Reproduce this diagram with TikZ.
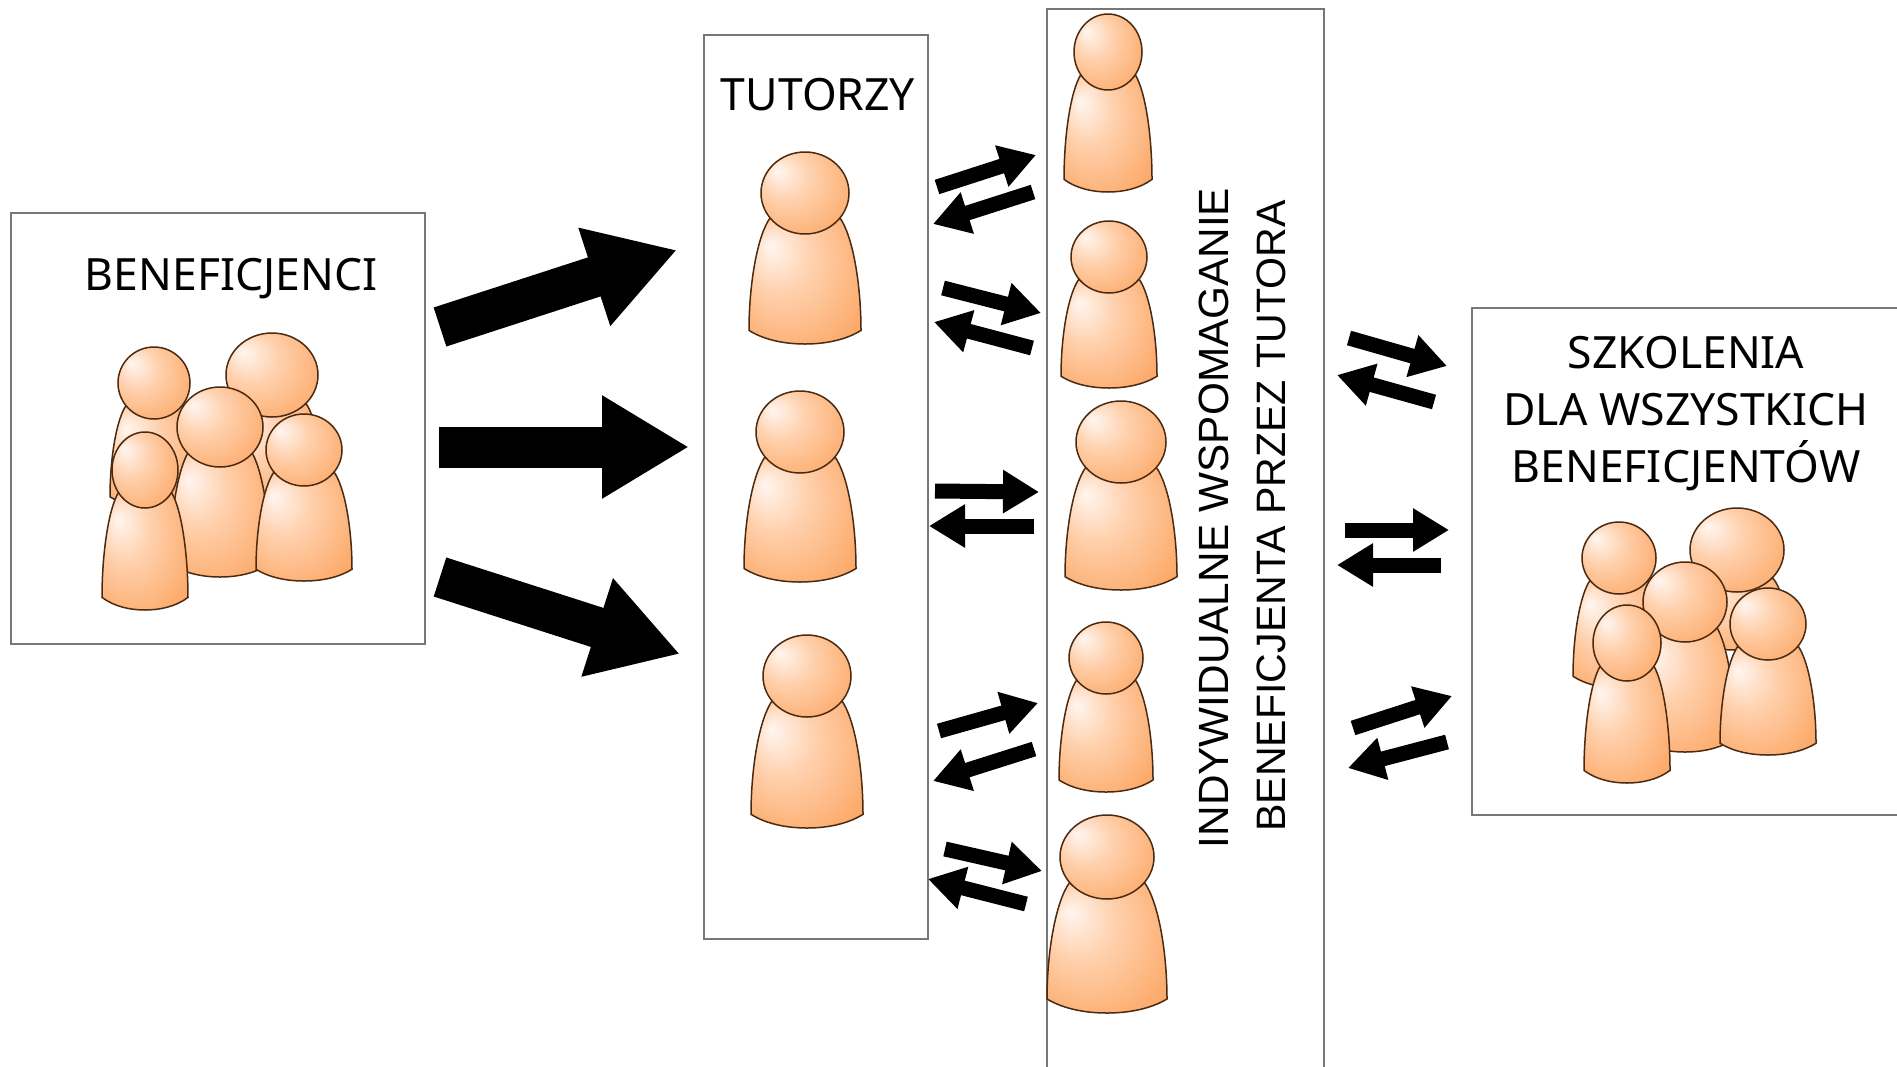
\documentclass[tikz,border=0pt]{standalone}
\usepackage{fontspec}
\setmainfont{Noto Sans}
\newfontfamily\arialfont{Liberation Sans}
\usetikzlibrary{arrows.meta}
\definecolor{pawnlight}{HTML}{FFF6F0}
\definecolor{pawnmid}{HTML}{FFD0AC}
\definecolor{pawnorange}{HTML}{FCA968}
\definecolor{pawnedge}{HTML}{4A2A10}
\definecolor{boxedge}{HTML}{777777}
\pgfdeclareradialshading{pawnshade}{\pgfpoint{-16bp}{14bp}}{%
  color(0bp)=(pawnlight); color(15bp)=(pawnmid); color(36bp)=(pawnorange); color(50bp)=(pawnorange)}
\tikzset{
  panel/.style={draw=boxedge,line width=1.6pt,fill=white},
  pawnpart/.style={draw=pawnedge,line width=1.5pt,shading=pawnshade,shading angle=0},
  bigarrow/.style={line width=41pt,-{Triangle[length=87pt,width=97pt]}},
  smallarrow/.style={line width=15pt,-{Triangle[length=36pt,width=41pt]}},
  label/.style={font=\fontsize{44.5}{44.5}\selectfont,inner sep=0pt},
  vlabel/.style={inner sep=0pt,rotate=90},
}
\newcommand{\pawn}[6]{% head cx, head cy, head rx, head ry, body half width, bottom
  \pgfmathsetmacro{\pH}{#6-#2}
  \path[pawnpart]
    ({#1-0.62*#5},{#2+0.6*#4})
    .. controls ({#1-0.85*#5},{#2+0.28*\pH}) and ({#1-#5},{#2+0.6*\pH}) .. ({#1-#5},{#6-0.09*\pH})
    .. controls ({#1-0.72*#5},{#6-0.025*\pH}) and ({#1-0.35*#5},{#6}) .. ({#1},{#6})
    .. controls ({#1+0.35*#5},{#6}) and ({#1+0.72*#5},{#6-0.025*\pH}) .. ({#1+#5},{#6-0.09*\pH})
    .. controls ({#1+#5},{#2+0.6*\pH}) and ({#1+0.85*#5},{#2+0.28*\pH}) .. ({#1+0.62*#5},{#2+0.6*#4})
    -- cycle;
  \path[pawnpart] (#1,#2) ellipse [x radius=#3,y radius=#4];
}
\newcommand{\link}[4]{% style, name, start, end
  \coordinate (#2s) at #3;
  \coordinate (#2e) at #4;
  \draw[#1] (#2s) -- (#2e);
}
\begin{document}
\begin{tikzpicture}[x=1pt,y=-1pt]
\useasboundingbox (0,0) rectangle (1897,1066);
\clip (0,0) rectangle (1897,1066);
\fill[white] (0,0) rectangle (1897,1066);
% panels
\draw[panel] (11,213) rectangle (425,644);
\draw[panel] (704,35) rectangle (928,939);
\draw[panel] (1047,9) rectangle (1324,1080);
\draw[panel] (1472,308) rectangle (1910,815);
% labels
\node[label] (benef) at (231,279) {BENEFICJENCI};
\node[label] (tut) at (818,95) {TUTORZY};
\node[label] (sz1) at (1686,353) {SZKOLENIA};
\node[label] (sz2) at (1686,410) {DLA WSZYSTKICH};
\node[label] (sz3) at (1686,466) {BENEFICJENTÓW};
\node[vlabel,font=\arialfont\fontsize{42.3}{42.3}\selectfont] (v1) at (1214,518) {INDYWIDUALNE WSPOMAGANIE};
\node[vlabel,font=\arialfont\fontsize{41.1}{41.1}\selectfont] (v2) at (1271,516) {BENEFICJENTA PRZEZ TUTORA};
% left group
\pawn{272}{375}{46}{42}{50}{500}
\pawn{154}{383}{36}{36}{44}{508}
\pawn{220}{427}{43}{40}{50}{577}
\pawn{304}{450}{38}{36}{48}{581}
\pawn{145}{470}{33}{38}{43}{610}
% tutors
\pawn{805}{193}{44}{41}{56}{344}
\pawn{800}{432}{44}{41}{56}{582}
\pawn{807}{676}{44}{41}{56}{828}
% right column
\pawn{1108}{52}{34}{38}{44}{192}
\pawn{1109}{257}{38}{36}{48}{388}
\pawn{1121}{442}{45}{41}{56}{590}
\pawn{1106}{658}{37}{36}{47}{792}
\pawn{1107}{857}{47}{42}{60}{1013}
% right group
\pawn{1737}{550}{47}{42}{50}{650}
\pawn{1619}{558}{37}{36}{46}{688}
\pawn{1685}{602}{42}{40}{50}{752}
\pawn{1768}{624}{38}{36}{48}{755}
\pawn{1627}{643}{34}{38}{43}{783}
% big arrows
\link{bigarrow}{a}{(440,327)}{(677,250)}
\link{bigarrow}{b}{(439,447)}{(689,447)}
\link{bigarrow}{c}{(440,577)}{(680,654)}
% small arrows
\link{smallarrow}{p}{(937,187)}{(1036,155)}
\link{smallarrow}{q}{(1033,192)}{(933,224)}
\link{smallarrow}{r}{(943,288)}{(1041,313)}
\link{smallarrow}{s}{(1032,348)}{(934,322)}
\link{smallarrow}{t}{(935,491)}{(1039,492)}
\link{smallarrow}{u}{(1034,526)}{(929,526)}
\link{smallarrow}{v}{(939,731)}{(1038,703)}
\link{smallarrow}{w}{(1034,749)}{(933,781)}
\link{smallarrow}{x}{(945,849)}{(1042,871)}
\link{smallarrow}{y}{(1026,904)}{(928,879)}
\link{smallarrow}{z}{(1349,338)}{(1447,366)}
\link{smallarrow}{k}{(1434,402)}{(1337,375)}
\link{smallarrow}{l}{(1345,530)}{(1449,530)}
\link{smallarrow}{m}{(1441,565)}{(1337,565)}
\link{smallarrow}{n}{(1353,728)}{(1452,696)}
\link{smallarrow}{o}{(1447,742)}{(1348,768)}
\end{tikzpicture}
\end{document}
